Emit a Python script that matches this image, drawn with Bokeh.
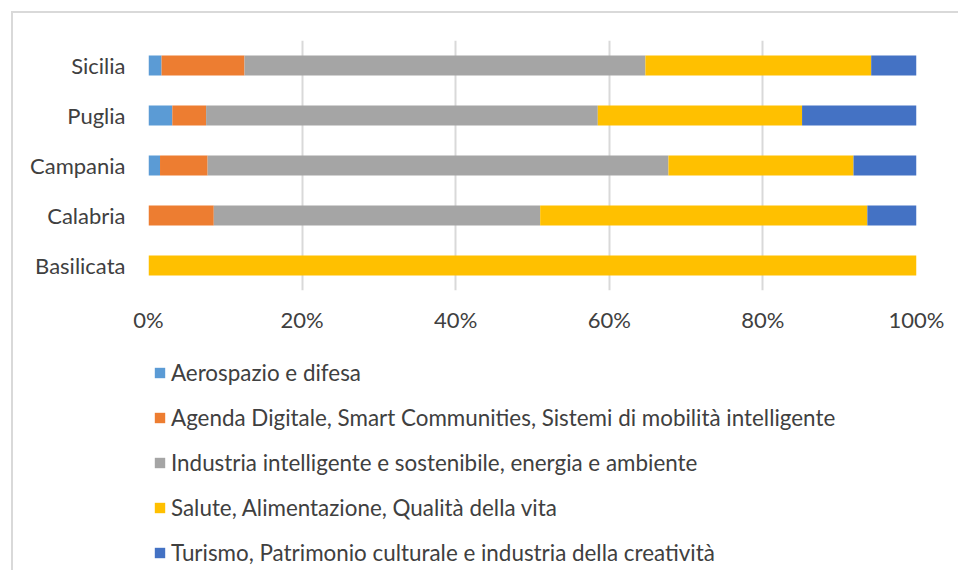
from bokeh.plotting import figure
from bokeh.layouts import column
from bokeh.models import FactorRange, Range1d, FixedTicker, PrintfTickFormatter, Legend, LegendItem, ColumnDataSource
from bokeh.embed import file_html
from bokeh.resources import INLINE

regions = ["Basilicata", "Calabria", "Campania", "Puglia", "Sicilia"]
series_names = [
    "Aerospazio e difesa",
    "Agenda Digitale, Smart Communities, Sistemi di mobilità intelligente",
    "Industria intelligente e sostenibile, energia e ambiente",
    "Salute, Alimentazione, Qualità della vita",
    "Turismo, Patrimonio culturale e industria della creatività",
]
aerospazio = [0.0, 0.0, 1.5, 3.1, 1.7]
agenda = [0.0, 8.5, 6.2, 4.4, 10.8]
industria = [0.0, 42.5, 60.0, 51.0, 52.2]
salute = [100.0, 42.6, 24.1, 26.6, 29.4]
turismo = [0.0, 6.4, 8.2, 14.9, 5.9]
x_ticks = [0, 20, 40, 60, 80, 100]
colors = ["#5B9BD5", "#ED7D31", "#A5A5A5", "#FFC000", "#4472C4"]

series = [aerospazio, agenda, industria, salute, turismo]

FONT = "Lato"
TXT = "#404040"
FS = "22px"

# stacked segments (zero-width segments skipped)
sources = []
base = [0.0] * len(regions)
for vals in series:
    ys, ls, rs = [], [], []
    for i, v in enumerate(vals):
        if v > 0:
            ys.append(regions[i]); ls.append(base[i]); rs.append(base[i] + v)
        base[i] += v
    sources.append(dict(y=ys, left=ls, right=rs))

p = figure(width=945, height=332, y_range=FactorRange(*regions), x_range=Range1d(0, 100),
           output_backend="svg", toolbar_location=None,
           min_border_left=135, min_border_right=42, min_border_top=27, min_border_bottom=55)
p.outline_line_color = None

for d, col in zip(sources, colors):
    p.hbar(y="y", left="left", right="right", height=0.4, color=col, line_color=None,
           source=ColumnDataSource(d))

p.xaxis.ticker = FixedTicker(ticks=x_ticks)
p.xaxis.formatter = PrintfTickFormatter(format="%d%%")
p.xaxis.axis_line_color = None
p.xaxis.major_tick_line_color = None
p.xaxis.minor_tick_line_color = None
p.xaxis.major_tick_out = 0
p.xaxis.major_tick_in = 0
p.xaxis.major_label_standoff = 15
p.xaxis.major_label_text_font = FONT
p.xaxis.major_label_text_font_size = FS
p.xaxis.major_label_text_color = TXT

p.yaxis.axis_line_color = None
p.yaxis.major_tick_line_color = None
p.yaxis.major_tick_out = 0
p.yaxis.major_tick_in = 0
p.yaxis.major_label_standoff = 23
p.yaxis.major_label_text_font = FONT
p.yaxis.major_label_text_font_size = FS
p.yaxis.major_label_text_color = TXT

p.ygrid.grid_line_color = None
p.xgrid.grid_line_color = "#d9d9d9"
p.xgrid.grid_line_width = 2

# legend panel (frame aligned with the chart's frame by the column layout)
q = figure(width=945, height=225, y_range=FactorRange(*regions), x_range=Range1d(0, 100),
           output_backend="svg", toolbar_location=None,
           min_border_left=135, min_border_right=42, min_border_top=0, min_border_bottom=0)
q.outline_line_color = None
q.axis.visible = False
q.grid.visible = False
items = []
for name, d, col in zip(series_names, sources, colors):
    r = q.hbar(y="y", left="left", right="right", height=0.4, color=col, line_color=None,
               source=ColumnDataSource(d))
    r.visible = False
    items.append(LegendItem(label=name, renderers=[r]))
legend = Legend(items=items, location=(5, 4), orientation="vertical")
legend.border_line_color = None
legend.background_fill_alpha = 0
legend.label_text_font = FONT
legend.label_text_font_size = "22.4px"
legend.label_text_color = TXT
legend.glyph_width = 13
legend.glyph_height = 13
legend.label_standoff = 5
legend.label_height = 25
legend.spacing = 18
legend.padding = 0
legend.margin = 0
q.add_layout(legend, "center")

layout = column(p, q, spacing=0, margin=(11, 0, 0, 11),
                styles={"border-top": "2px solid #d9d9d9", "border-left": "2px solid #d9d9d9"})

open("out.html", "w").write(file_html(layout, INLINE))
